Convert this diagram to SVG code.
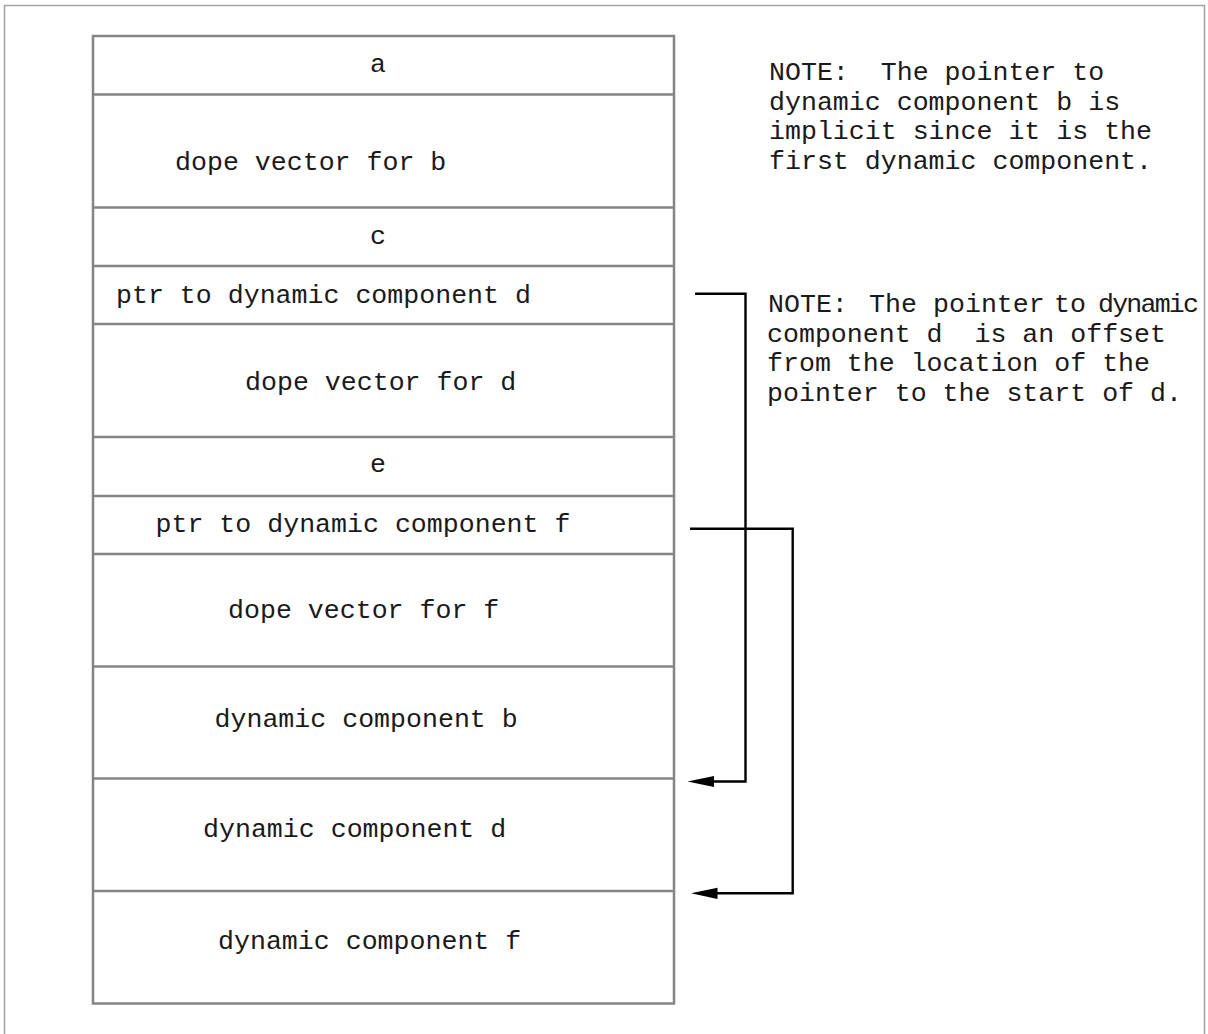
<svg xmlns="http://www.w3.org/2000/svg" width="1208" height="1034" viewBox="0 0 1208 1034">
  <style>
    .frame { fill: none; stroke: #a3a3a3; stroke-width: 1.5; }
    .cell { fill: #ffffff; stroke: #858585; stroke-width: 2.5; }
    .sep { stroke: #858585; stroke-width: 2.4; }
    .lbl { font-family: "Liberation Mono", "Courier New", monospace; font-size: 26.6px; fill: #1a1a1a; white-space: pre; }
    .link { fill: none; stroke: #000000; stroke-width: 2.4; }
  </style>
  <defs>
    <marker id="arrow" markerUnits="userSpaceOnUse" viewBox="-16 -8 30 16" markerWidth="30" markerHeight="16" refX="0" refY="0" orient="auto">
      <path d="M12.5,0 L-14,-5.6 L-14,5.6 z" fill="#000000"/>
    </marker>
  </defs>

  <rect id="page-frame" class="frame" x="4.5" y="5.5" width="1200" height="1100"/>

  <!-- record layout: one group per field -->
  <g id="record">
    <rect class="cell" x="93" y="36" width="581" height="967.5"/>
    <g id="field-a">
      <text class="lbl" x="370" y="72">a</text>
    </g>
    <g id="field-dope-b">
      <line class="sep" x1="93" y1="94.5" x2="674" y2="94.5"/>
      <text class="lbl" x="175" y="170">dope vector for b</text>
    </g>
    <g id="field-c">
      <line class="sep" x1="93" y1="207.5" x2="674" y2="207.5"/>
      <text class="lbl" x="370" y="243.5">c</text>
    </g>
    <g id="field-ptr-d">
      <line class="sep" x1="93" y1="266" x2="674" y2="266"/>
      <text class="lbl" x="116" y="303">ptr to dynamic component d</text>
    </g>
    <g id="field-dope-d">
      <line class="sep" x1="93" y1="324" x2="674" y2="324"/>
      <text class="lbl" x="245" y="390">dope vector for d</text>
    </g>
    <g id="field-e">
      <line class="sep" x1="93" y1="437" x2="674" y2="437"/>
      <text class="lbl" x="370" y="472">e</text>
    </g>
    <g id="field-ptr-f">
      <line class="sep" x1="93" y1="496" x2="674" y2="496"/>
      <text class="lbl" x="155.5" y="531.5">ptr to dynamic component f</text>
    </g>
    <g id="field-dope-f">
      <line class="sep" x1="93" y1="554" x2="674" y2="554"/>
      <text class="lbl" x="228" y="618">dope vector for f</text>
    </g>
    <g id="field-dyn-b">
      <line class="sep" x1="93" y1="666.5" x2="674" y2="666.5"/>
      <text class="lbl" x="214.5" y="726.5">dynamic component b</text>
    </g>
    <g id="field-dyn-d">
      <line class="sep" x1="93" y1="778.5" x2="674" y2="778.5"/>
      <text class="lbl" x="203" y="836.5">dynamic component d</text>
    </g>
    <g id="field-dyn-f">
      <line class="sep" x1="93" y1="891" x2="674" y2="891"/>
      <text class="lbl" x="218" y="949">dynamic component f</text>
    </g>
  </g>

  <!-- pointer offsets -->
  <g id="connectors">
    <path class="link" d="M695,293.7 H745.5 V781.5 H700" marker-end="url(#arrow)"/>
    <path class="link" d="M690,528.7 H792.7 V893.3 H703.5" marker-end="url(#arrow)"/>
  </g>

  <g id="note-implicit">
    <text class="lbl" x="769" y="80">NOTE:  The pointer to</text>
    <text class="lbl" x="769" y="109.5">dynamic component b is</text>
    <text class="lbl" x="769" y="139">implicit since it is the</text>
    <text class="lbl" x="769" y="168.5">first dynamic component.</text>
  </g>

  <g id="note-offset">
    <text class="lbl" y="312"><tspan x="768">NOTE:</tspan><tspan x="869">The</tspan><tspan x="933">pointer</tspan><tspan x="1054">to</tspan><tspan x="1098" textLength="101" lengthAdjust="spacing">dynamic</tspan></text>
    <text class="lbl" x="767" y="341.5">component d  is an offset</text>
    <text class="lbl" x="767" y="371">from the location of the</text>
    <text class="lbl" x="767" y="400.5">pointer to the start of d.</text>
  </g>
</svg>
